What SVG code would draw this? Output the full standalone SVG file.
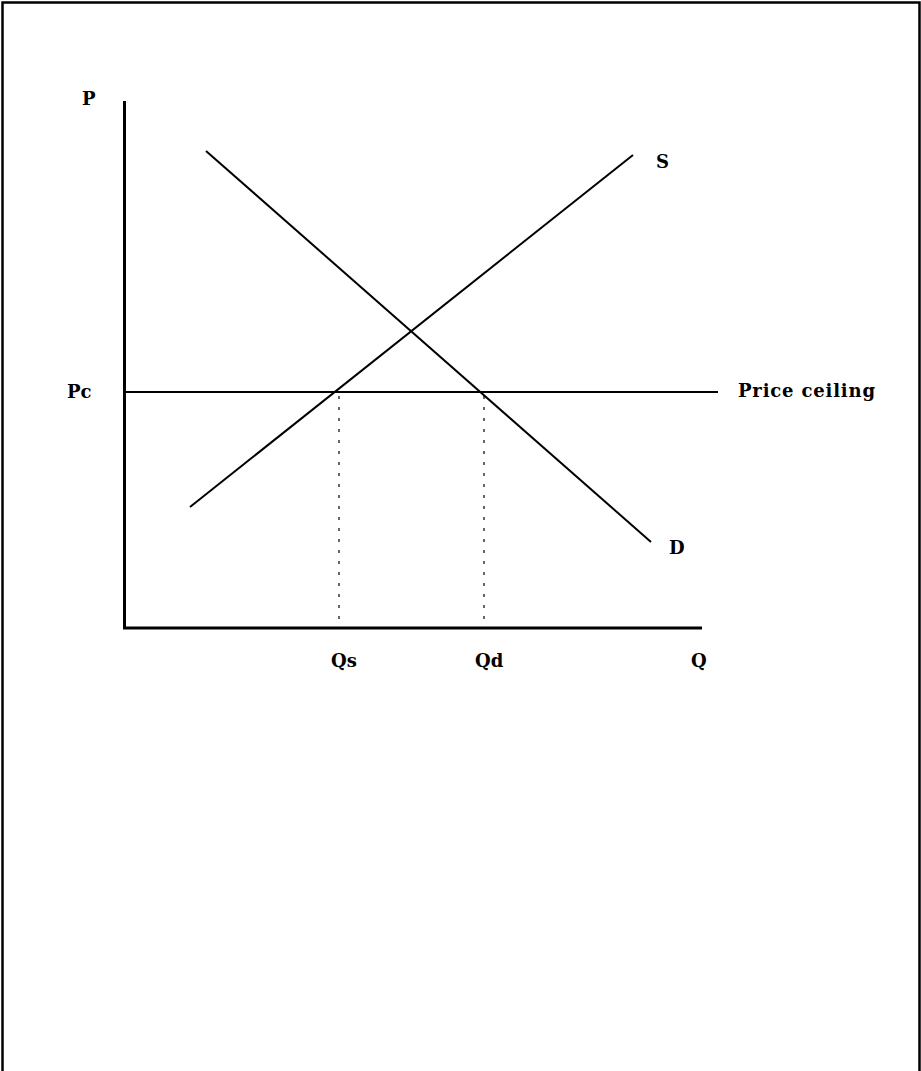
<svg xmlns="http://www.w3.org/2000/svg" width="921" height="1071" viewBox="0 0 921 1071">
<style>
.lbl{font-family:"DejaVu Serif","Liberation Serif",serif;font-weight:bold;font-size:18px;fill:#000}
.ln{stroke:#000;stroke-width:2;fill:none}
.axis{stroke:#000;stroke-width:3;fill:none}
.dot{stroke:#000;stroke-width:1.2;stroke-dasharray:3 8;fill:none}
</style>
<rect width="921" height="1071" fill="#fff"/>
<path d="M2.5 1071 V2.5 H919.5 V1071" stroke="#000" stroke-width="2.5" fill="none"/>
<g id="connectors">
<path class="axis" d="M124.5 101 V628 H702"/>
<line class="ln" x1="126" y1="392" x2="718" y2="392"/>
<line class="ln" x1="206" y1="151" x2="651" y2="542"/>
<line class="ln" x1="190" y1="507" x2="633" y2="155"/>
<line class="dot" x1="339" y1="396" x2="339" y2="628"/>
<line class="dot" x1="484" y1="396" x2="484" y2="628"/>
</g>
<g id="labels">
<text class="lbl" x="82" y="105">P</text>
<text class="lbl" x="67" y="398">Pc</text>
<text class="lbl" x="656" y="168">S</text>
<text class="lbl" x="669" y="554">D</text>
<text class="lbl" x="331" y="667">Qs</text>
<text class="lbl" x="475" y="667">Qd</text>
<text class="lbl" x="691" y="667">Q</text>
<text class="lbl" x="738" y="397" textLength="137">Price ceiling</text>
</g>
</svg>
